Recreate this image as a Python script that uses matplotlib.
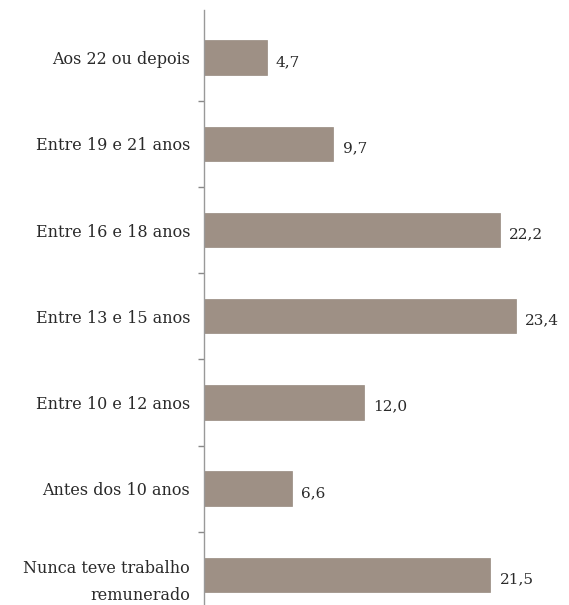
import numpy as np
import matplotlib.pyplot as plt

categorias = ["Aos 22 ou depois", "Entre 19 e 21 anos", "Entre 16 e 18 anos",
              "Entre 13 e 15 anos", "Entre 10 e 12 anos", "Antes dos 10 anos",
              "Nunca teve trabalho\nremunerado"]
valores = [4.7, 9.7, 22.2, 23.4, 12.0, 6.6, 21.5]
rotulos = ["4,7", "9,7", "22,2", "23,4", "12,0", "6,6", "21,5"]

plt.rcParams['font.family'] = ['DejaVu Serif']

fig = plt.figure(figsize=(5.69, 6.05), dpi=100)
ax = fig.add_axes([0.3585, 0.0, 0.6415, 0.983])

y = np.arange(len(categorias))
ax.barh(y, valores, height=0.4, color='#9e9085', edgecolor='#978a7f', linewidth=0.5)

for yi, v, r in zip(y, valores, rotulos):
    ax.text(v + 0.7, yi + 0.05, r, va='center', ha='left', fontsize=11, color='#2a2a2a')

ax.set_xlim(0, 27.4)
ax.set_ylim(6.35, -0.55)
ax.set_yticks(y)
ax.set_yticklabels(categorias, fontsize=11.5, color='#2a2a2a', linespacing=1.75)
ax.set_yticks(y[:-1] + 0.5, minor=True)
ax.tick_params(axis='y', which='major', length=0, pad=10)
ax.tick_params(axis='y', which='minor', length=4, color='#888888', width=1)
ax.set_xticks([])
for s in ['top', 'right', 'bottom']:
    ax.spines[s].set_visible(False)
ax.spines['left'].set_color('#999999')
ax.spines['left'].set_linewidth(1)

fig.savefig('out.png', dpi=100)
